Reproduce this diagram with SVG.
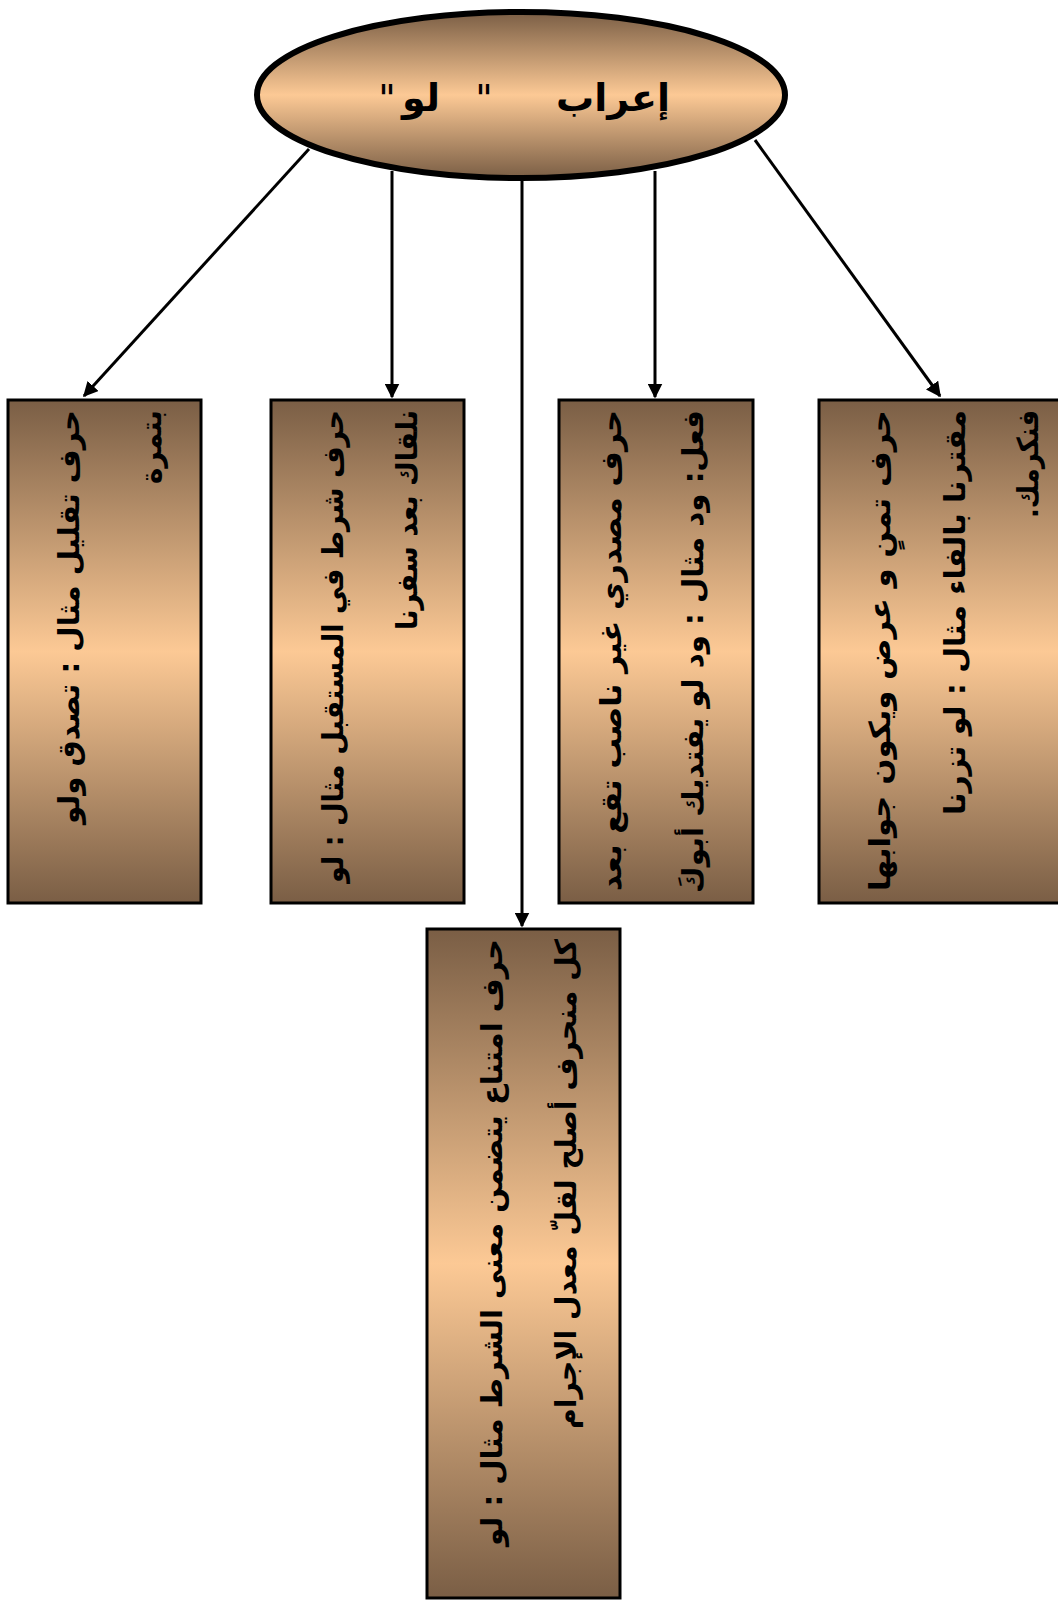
<svg xmlns="http://www.w3.org/2000/svg" width="1058" height="1606" viewBox="0 0 1058 1606">
<style>
.box{stroke:#000;stroke-width:3;fill:url(#g)}
.t{font-family:"DejaVu Sans",sans-serif;font-weight:bold;font-size:29px;fill:#000}
.ti{font-family:"DejaVu Sans",sans-serif;font-weight:bold;font-size:38px;fill:#000;text-anchor:middle}
.q{font-weight:normal}
.c line{stroke:#000;stroke-width:3;marker-end:url(#ah)}
</style>
<defs>
<linearGradient id="g" x1="0" y1="0" x2="0" y2="1">
<stop offset="0" stop-color="#7a5e45"/>
<stop offset="0.5" stop-color="#fcc995"/>
<stop offset="1" stop-color="#7a5e45"/>
</linearGradient>
<marker id="ah" viewBox="0 0 10 10" refX="9" refY="5" markerWidth="5" markerHeight="5" orient="auto" markerUnits="strokeWidth">
<path d="M0,0 L10,5 L0,10 z" fill="#000"/>
</marker>
</defs>
<rect width="1058" height="1606" fill="#fff"/>
<g class="c" id="connectors">
<line x1="309" y1="149" x2="84" y2="396"/>
<line x1="392" y1="171" x2="392" y2="397"/>
<line x1="522" y1="181" x2="522" y2="926"/>
<line x1="655" y1="171" x2="655" y2="397"/>
<line x1="755" y1="140" x2="940" y2="396"/>
</g>
<g id="root">
<ellipse cx="521" cy="95" rx="264" ry="83" fill="url(#g)" stroke="#000" stroke-width="6"/>
<text class="ti" x="613" y="111">إعراب</text>
<text class="ti q" x="484" y="111">"</text>
<text class="ti" x="421" y="111">لو</text>
<text class="ti q" x="387" y="111">"</text>
</g>
<g id="boxA">
<rect class="box" x="8" y="400" width="193" height="503"/>
<g transform="translate(79,410) rotate(-90)">
<text class="t" direction="rtl" text-anchor="start" x="0" y="0" textLength="414" lengthAdjust="spacingAndGlyphs">حرف تقليل مثال : تصدق ولو</text>
<text class="t" direction="rtl" text-anchor="start" x="0" y="82" textLength="74" lengthAdjust="spacingAndGlyphs">بتمرة</text>
</g>
</g>
<g id="boxB">
<rect class="box" x="271" y="400" width="193" height="503"/>
<g transform="translate(343,410) rotate(-90)">
<text class="t" direction="rtl" text-anchor="start" x="0" y="0" textLength="473" lengthAdjust="spacingAndGlyphs">حرف شرط في المستقبل مثال : لو</text>
<text class="t" direction="rtl" text-anchor="start" x="0" y="74" textLength="220" lengthAdjust="spacingAndGlyphs">نلقاك بعد سفرنا</text>
</g>
</g>
<g id="boxC">
<rect class="box" x="559" y="400" width="194" height="503"/>
<g transform="translate(621,410) rotate(-90)">
<text class="t" direction="rtl" text-anchor="start" x="0" y="0" textLength="481" lengthAdjust="spacingAndGlyphs">حرف مصدري غير ناصب تقع بعد</text>
<text class="t" direction="rtl" text-anchor="start" x="0" y="82" textLength="483" lengthAdjust="spacingAndGlyphs">فعل: ود مثال : ود لو يفتديك أبوكَ</text>
</g>
</g>
<g id="boxD">
<rect class="box" x="819" y="400" width="260" height="503"/>
<g transform="translate(890,410) rotate(-90)">
<text class="t" direction="rtl" text-anchor="start" x="0" y="0" textLength="481" lengthAdjust="spacingAndGlyphs">حرف تمنٍ و عرض ويكون جوابها</text>
<text class="t" direction="rtl" text-anchor="start" x="0" y="75" textLength="405" lengthAdjust="spacingAndGlyphs">مقترنا بالفاء مثال : لو تزرنا</text>
<text class="t" direction="rtl" text-anchor="start" x="0" y="148" textLength="108" lengthAdjust="spacingAndGlyphs">فنكرمك.</text>
</g>
</g>
<g id="boxE">
<rect class="box" x="427" y="929" width="193" height="669"/>
<g transform="translate(502,939) rotate(-90)">
<text class="t" direction="rtl" text-anchor="start" x="0" y="0" textLength="607" lengthAdjust="spacingAndGlyphs">حرف امتناع يتضمن معنى الشرط مثال : لو</text>
<text class="t" direction="rtl" text-anchor="start" x="0" y="74" textLength="490" lengthAdjust="spacingAndGlyphs">كل منحرف أصلح لقلّ معدل الإجرام</text>
</g>
</g>
</svg>
